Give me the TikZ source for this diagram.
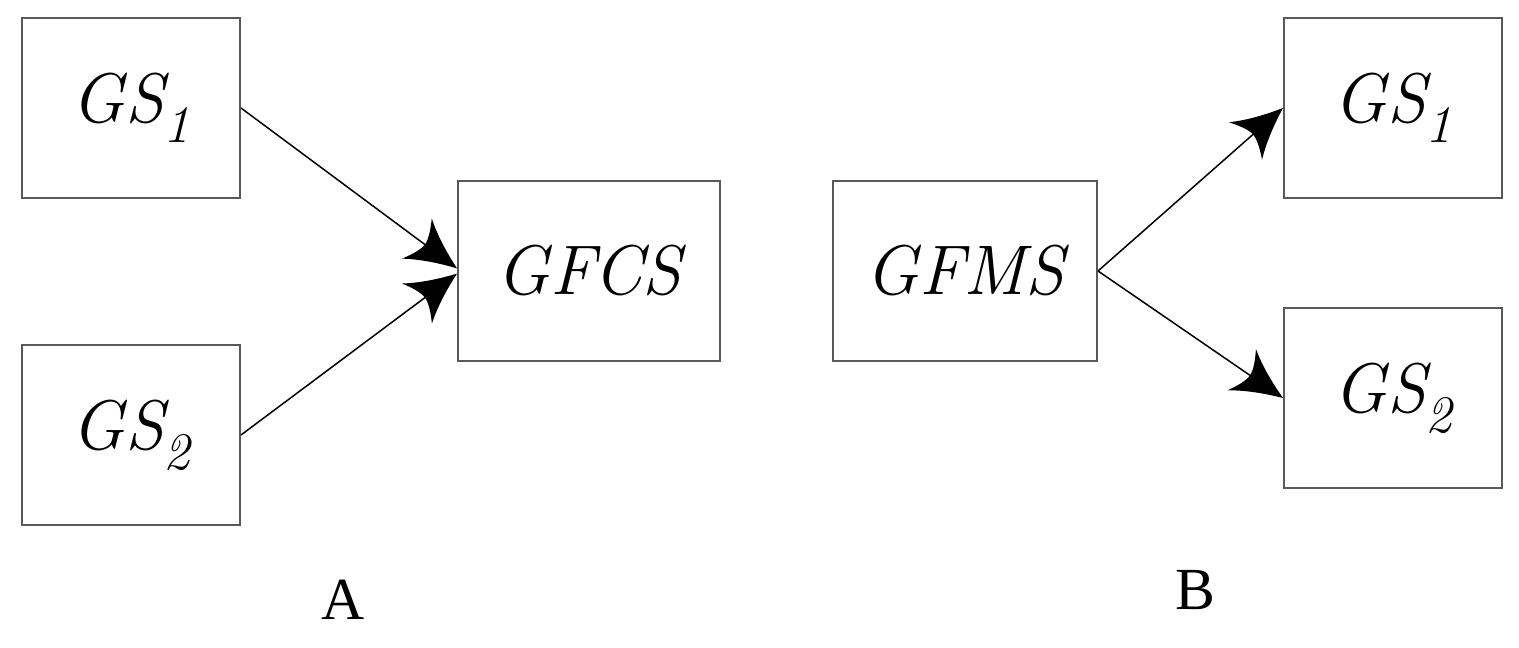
\documentclass[tikz,border=0pt]{standalone}
\usepackage{fontspec}
\newfontfamily\capfont{Liberation Serif}
\usetikzlibrary{positioning, arrows.meta}

% Concave arrow tip.
\pgfdeclarearrow{
  name = Curvy,
  parameters = {\the\pgfarrowlength,\the\pgfarrowwidth},
  setup code = {
    \pgfarrowssettipend{0pt}
    \pgfarrowssetlineend{-0.7\pgfarrowlength}
    \pgfarrowssavethe\pgfarrowlength
    \pgfarrowssavethe\pgfarrowwidth
  },
  drawing code = {
    \pgfpathmoveto{\pgfpoint{0pt}{0pt}}
    \pgfpathcurveto{\pgfpoint{-0.35\pgfarrowlength}{0.13\pgfarrowwidth}}
      {\pgfpoint{-0.7\pgfarrowlength}{0.29\pgfarrowwidth}}
      {\pgfpoint{-\pgfarrowlength}{0.5\pgfarrowwidth}}
    \pgfpathcurveto{\pgfpoint{-0.88\pgfarrowlength}{0.3\pgfarrowwidth}}
      {\pgfpoint{-0.8\pgfarrowlength}{0.12\pgfarrowwidth}}
      {\pgfpoint{-0.8\pgfarrowlength}{0pt}}
    \pgfpathcurveto{\pgfpoint{-0.8\pgfarrowlength}{-0.12\pgfarrowwidth}}
      {\pgfpoint{-0.88\pgfarrowlength}{-0.3\pgfarrowwidth}}
      {\pgfpoint{-\pgfarrowlength}{-0.5\pgfarrowwidth}}
    \pgfpathcurveto{\pgfpoint{-0.7\pgfarrowlength}{-0.29\pgfarrowwidth}}
      {\pgfpoint{-0.35\pgfarrowlength}{-0.13\pgfarrowwidth}}
      {\pgfpoint{0pt}{0pt}}
    \pgfpathclose
    \pgfusepathqfill
  },
  defaults = {length = 1cm, width = 1cm}
}

\newcommand{\gssub}[1]{\raisebox{-0.28em}{\fontsize{30}{30}\selectfont #1}}

\begin{document}
\begin{tikzpicture}[
    % Boxes.
    sysbox/.style = {
      draw = black!65,
      line width = 0.04cm,
      inner sep = 0pt,
      minimum width = 4.36cm,
      minimum height = 3.6cm,
      font = \fontsize{40}{48}\selectfont\itshape
    },
    % Links.
    link/.style = {
      -Curvy,
      line width = 0.03cm
    },
    % Captions.
    caption/.style = {
      font = \fontsize{34}{40}\selectfont\capfont
    }
  ]
  \useasboundingbox (0,0) rectangle (30.38,12.96);

  % Part A.
  \node[sysbox] (gsa1) at (2.62,10.8) {GS\gssub{1}};
  \node[sysbox] (gsa2) at (2.62,4.26) {GS\gssub{2}};
  \node[sysbox, minimum width = 5.24cm] (gfcs) at (11.78,7.54) {GFCS};
  \node[caption] (capa) at (6.86,0.96) {A};

  % Part B.
  \node[sysbox, minimum width = 5.28cm] (gfms) at (19.30,7.54) {GFMS};
  \node[sysbox] (gsb1) at (27.86,10.8) {GS\gssub{1}};
  \node[sysbox] (gsb2) at (27.86,5.0) {GS\gssub{2}};
  \node[caption] (capb) at (23.9,1.16) {B};

  % Links.
  \draw[link] (gsa1.east) -- ([yshift=1.5pt]gfcs.west);
  \draw[link] (gsa2.east) -- ([yshift=-1.5pt]gfcs.west);
  \draw[link] (gfms.east) -- (gsb1.west);
  \draw[link] (gfms.east) -- (gsb2.west);
\end{tikzpicture}
\end{document}
